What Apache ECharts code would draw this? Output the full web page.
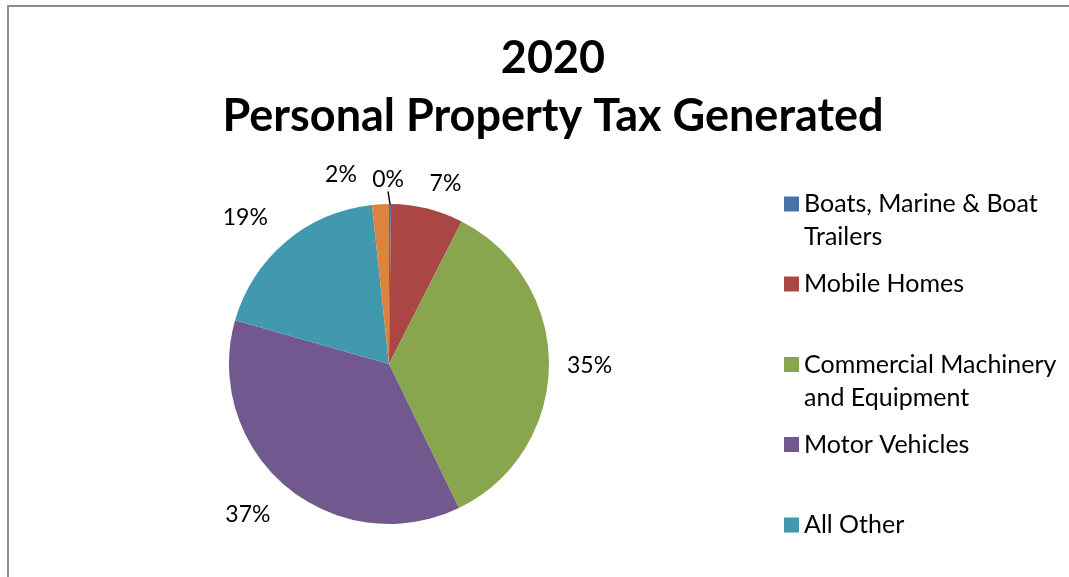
<!DOCTYPE html>
<html>
<head>
<meta charset="utf-8">
<script src="https://cdn.jsdelivr.net/npm/echarts@6/dist/echarts.min.js"></script>
<style>
html,body{margin:0;padding:0;background:#fff;overflow:hidden;}
#chart{position:absolute;left:0;top:0;width:1069px;height:577px;}
#frame{position:absolute;left:7px;top:5px;width:2000px;height:2000px;border-top:2px solid #8c8c8c;border-left:2px solid #8c8c8c;pointer-events:none;}
</style>
</head>
<body>
<div id="chart"></div>
<div id="frame"></div>
<script>
var titleLines = ['2020', 'Personal Property Tax Generated'];
var categories = ['Boats, Marine & Boat Trailers', 'Mobile Homes', 'Commercial Machinery and Equipment', 'Motor Vehicles', 'All Other', 'Other Personal Property'];
var values = [0.2, 7.3, 35.3, 36.6, 18.9, 1.7];
var colors = ['#4572A7', '#AA4643', '#89A54E', '#71588F', '#4198AF', '#DB843D'];
var legendLabels = ['Boats, Marine & Boat\nTrailers', 'Mobile Homes', 'Commercial Machinery\nand Equipment', 'Motor Vehicles', 'All Other'];
var legendTops = [154.5, 267.5, 315, 428, 508.5];
// per-slice label leader lengths (line hidden except for the 0% slice)
var labelLen = [24, 26, 8, 37, 31, 30];
var labelLen2 = [0, -9, 5, -13, -7, 17];

var FONT = 'Lato';
var chart = echarts.init(document.getElementById('chart'));

var legends = legendLabels.map(function (lbl, i) {
  var twoLine = lbl.indexOf('\n') >= 0;
  var shown = twoLine ? '\n' + lbl : lbl;
  return {
    orient: 'vertical',
    left: 784,
    top: legendTops[i],
    padding: 0,
    itemWidth: 15,
    itemHeight: 15,
    icon: 'rect',
    selectedMode: false,
    data: [categories[i]],
    formatter: function () { return shown; },
    textStyle: {
      fontFamily: FONT,
      fontSize: 25,
      color: '#000',
      lineHeight: 33
    }
  };
});

var data = categories.map(function (c, i) {
  return {
    name: c,
    value: values[i],
    itemStyle: { color: colors[i] },
    labelLine: {
      show: i === 0,
      length: labelLen[i],
      length2: labelLen2[i],
      lineStyle: { color: '#000', width: 1.5 }
    }
  };
});

chart.setOption({
  animation: false,
  title: {
    text: titleLines.join('\n'),
    left: 548,
    top: 24,
    textAlign: 'center',
    textStyle: { fontFamily: FONT, fontWeight: 'bold', fontSize: 45, lineHeight: 58, color: '#000' }
  },
  legend: legends,
  series: [{
    type: 'pie',
    center: [389, 364],
    radius: 160,
    startAngle: 90,
    clockwise: true,
    avoidLabelOverlap: false,
    label: {
      show: true,
      position: 'outside',
      fontFamily: FONT,
      fontSize: 23,
      color: '#000',
      distanceToLabelLine: 5,
      formatter: function (p) { return Math.round(p.percent) + '%'; }
    },
    labelLayout: function (p) {
      if (p.dataIndex === 0) {
        return {
          x: p.labelRect.x - 23,
          y: p.labelRect.y + p.labelRect.height / 2,
          align: 'left',
          verticalAlign: 'middle'
        };
      }
      return {};
    },
    itemStyle: { borderWidth: 0 },
    data: data
  }]
});
</script>
</body>
</html>
